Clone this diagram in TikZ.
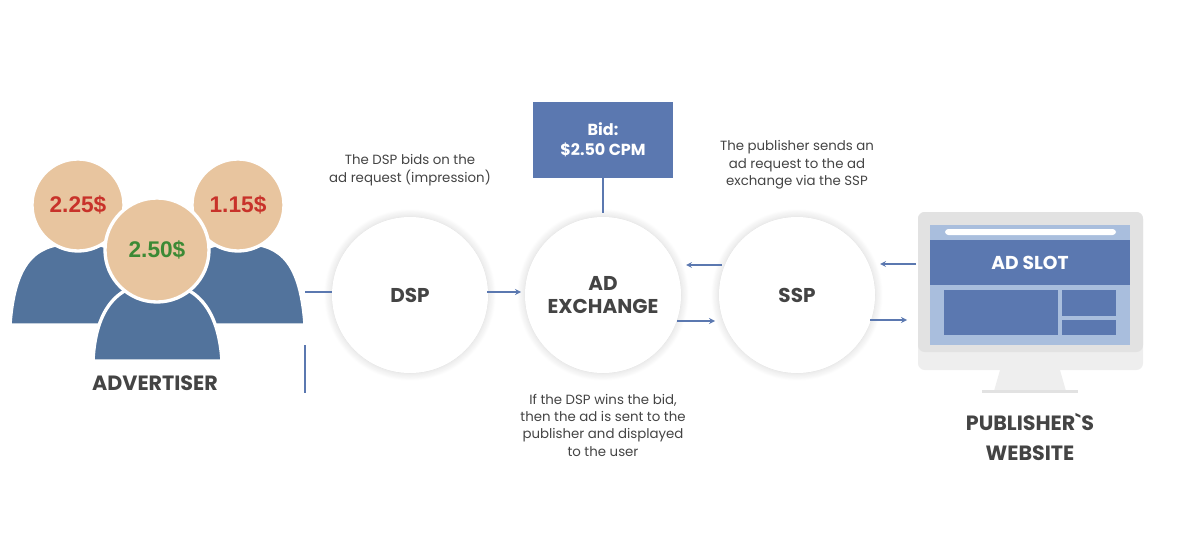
\documentclass[tikz,border=0pt]{standalone}
\usepackage{fontspec}
\setmainfont{Poppins}
\newfontfamily\pricefont{Liberation Sans}
\usetikzlibrary{shadows.blur}
\definecolor{bodyblue}{HTML}{52739C}
\definecolor{skin}{HTML}{E8C59F}
\definecolor{boxblue}{HTML}{5B78B0}
\definecolor{lightblue}{HTML}{A9BEDD}
\definecolor{monigrey}{HTML}{E2E2E2}
\definecolor{chin}{HTML}{EEEEEE}
\definecolor{txt}{HTML}{444444}
\definecolor{pricered}{HTML}{C8322A}
\definecolor{pricegreen}{HTML}{3C8A35}
\tikzset{
  hub/.style={circle,fill=white,minimum size=117pt,inner sep=0pt,blur shadow={shadow blur steps=12,shadow xshift=0pt,shadow yshift=0pt,shadow blur radius=6pt,shadow opacity=18},font=\bfseries\fontsize{15}{17}\selectfont,text=txt,align=center},
  head/.style={circle,fill=skin,draw=white,line width=2.5pt,inner sep=0pt,font=\pricefont\bfseries\fontsize{17}{17}\selectfont},
  bodyp/.style={fill=bodyblue,draw=white,line width=2.5pt},
  conn/.style={draw=boxblue,line width=1pt,-stealth},
  line/.style={draw=boxblue,line width=1pt},
  note/.style={font=\fontsize{10}{13}\selectfont,text=txt,align=center},
  title/.style={font=\bfseries\fontsize{15.5}{22}\selectfont,text=txt,align=center}
}
\begin{document}
\begin{tikzpicture}[x=0.75pt,y=-0.75pt]
\useasboundingbox (0,0) rectangle (1186,542);
% advertiser
\path[bodyp] (10,325) .. controls (15,255) and (40,243) .. (78,243) .. controls (116,243) and (141,255) .. (146,325) -- cycle;
\path[bodyp] (171,325) .. controls (176,255) and (200,243) .. (238,243) .. controls (276,243) and (300,255) .. (305,325) -- cycle;
\node[head,minimum size=69pt,text=pricered] (h1) at (78,205) {2.25\$};
\node[head,minimum size=69pt,text=pricered] (h3) at (238,205) {1.15\$};
\path[bodyp] (93,361) .. controls (96,300) and (125,283) .. (157,283) .. controls (189,283) and (218,300) .. (222,361) -- cycle;
\node[head,minimum size=78pt,text=pricegreen] (h2) at (157,250) {2.50\$};
\node[title] (adv) at (155,383) {ADVERTISER};
\coordinate (a1) at (305,292);
\coordinate (a2) at (305,345);
\coordinate (a3) at (305,393);
% hubs
\node[hub] (dsp) at (410,295) {DSP};
\node[hub] (adx) at (603,295) {AD\\EXCHANGE};
\node[hub] (ssp) at (797,295) {SSP};
\draw[line] (a1) -- (a1 -| dsp.west);
\draw[line] (a2) -- (a3);
% bid box
\node[fill=boxblue,minimum width=105pt,minimum height=57pt,text=white,font=\bfseries\fontsize{12}{15}\selectfont,align=center] (bid) at (603,140) {Bid:\\\$2.50 CPM};
\draw[line] (bid.south) -- ([yshift=-26pt]bid.south);
% arrows
\coordinate (d1) at (487,292); \coordinate (d2) at (521,292);
\draw[conn] (d1) -- (d2);
\coordinate (s1) at (722,265); \coordinate (s2) at (686,265);
\draw[conn] (s1) -- (s2);
\coordinate (x1) at (677,321); \coordinate (x2) at (715,321);
\draw[conn] (x1) -- (x2);
\coordinate (m1) at (916,264); \coordinate (m2) at (880,264);
\draw[conn] (m1) -- (m2);
\coordinate (n1) at (870,320); \coordinate (n2) at (907,320);
\draw[conn] (n1) -- (n2);
% notes
\node[note] (n1t) at (410,170) {The DSP bids on the\\ad request (impression)};
\node[note] (n2t) at (797,165) {The publisher sends an\\ad request to the ad\\exchange via the SSP};
\node[note] (n3t) at (603,425) {If the DSP wins the bid,\\then the ad is sent to the\\publisher and displayed\\to the user};
% monitor
\fill[chin,rounded corners=5] (918,212) rectangle (1143,370);
\fill[monigrey,rounded corners=5] (918,212) -- (1143,212) -- (1143,352) -- (918,352) -- cycle;
\fill[chin] (1000,370) -- (1060,370) -- (1066,391) -- (994,391) -- cycle;
\fill[monigrey] (982,390) rectangle (1078,393);
\fill[lightblue] (930,225) rectangle (1130,345);
\fill[white,rounded corners=2.5] (945,229) rectangle (1116,235);
\fill[boxblue] (930,240) rectangle (1130,285);
\node[text=white,font=\bfseries\fontsize{14}{16}\selectfont] (slot) at (1030,263) {AD SLOT};
\fill[boxblue] (944,290) rectangle (1058,335);
\fill[boxblue] (1062,290) rectangle (1116,316);
\fill[boxblue] (1062,320) rectangle (1116,335);
\node[title] (pub) at (1030,437) {PUBLISHER\textasciigrave S\\WEBSITE};
\end{tikzpicture}
\end{document}
